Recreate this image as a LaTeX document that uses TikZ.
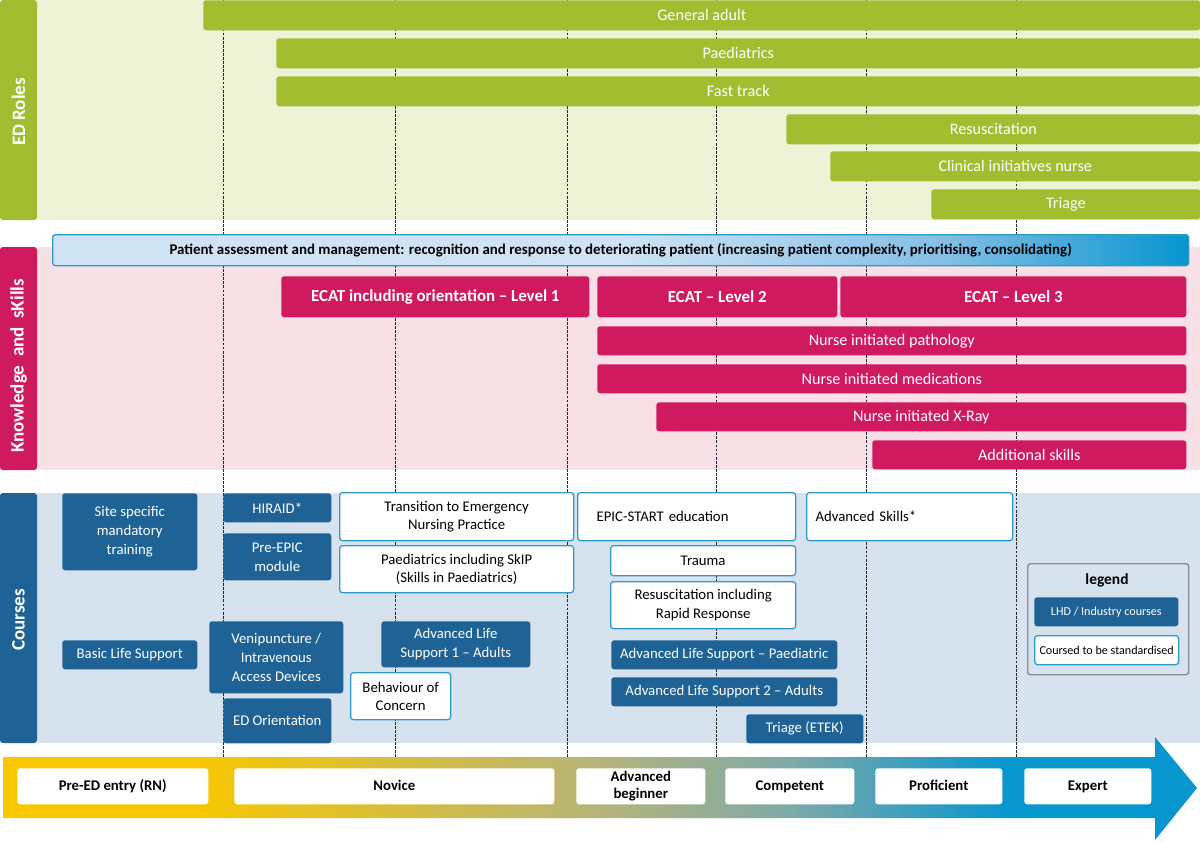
\documentclass[tikz,border=0pt]{standalone}
\usepackage{fontspec}
\setmainfont{Carlito}
\usetikzlibrary{positioning}
\definecolor{grn}{HTML}{A3BD31}
\definecolor{grnbg}{HTML}{EEF3D8}
\definecolor{mag}{HTML}{D01A5F}
\definecolor{pinkbg}{HTML}{F8E1E6}
\definecolor{dblue}{HTML}{1F6396}
\definecolor{cbg}{HTML}{D6E3EF}
\definecolor{cyanb}{HTML}{2F9AC8}
\definecolor{patl}{HTML}{CFE3F4}
\definecolor{patm}{HTML}{86BFE5}
\definecolor{patd}{HTML}{0795CF}
\definecolor{yel}{HTML}{F8C700}
\definecolor{olv}{HTML}{B5B47A}
\definecolor{teal}{HTML}{7EA9A8}
\definecolor{blu}{HTML}{0896CF}
\pgfdeclarehorizontalshading{patshade}{100bp}{color(0bp)=(patl); color(25bp)=(patl); color(50bp)=(patl); color(64bp)=(patm); color(75bp)=(patd); color(100bp)=(patd)}
\pgfdeclarehorizontalshading{stageshade}{100bp}{color(0bp)=(yel); color(25bp)=(yel); color(33bp)=(yel); color(50bp)=(olv); color(58bp)=(teal); color(67bp)=(blu); color(75bp)=(blu); color(100bp)=(blu)}

\begin{document}
\begin{tikzpicture}[x=0.025cm,y=-0.025cm,
 sz/.style 2 args={minimum width=#1*0.025cm,minimum height=#2*0.025cm},
 bar/.style={anchor=north west,rounded corners=2pt,inner sep=1pt,align=center},
 role/.style={bar,fill=grn,text=white,font=\fontsize{11.5}{13}\selectfont},
 ecat/.style={bar,fill=mag,text=white,font=\bfseries\fontsize{12}{14}\selectfont},
 skill/.style={bar,fill=mag,text=white,font=\fontsize{11.5}{13}\selectfont},
 lhd/.style={bar,fill=dblue,text=white,font=\fontsize{10.5}{13.5}\selectfont},
 std/.style={bar,fill=white,draw=cyanb,line width=0.9pt,font=\fontsize{10.5}{13}\selectfont},
 lefttext/.style 2 args={align=left,inner xsep=#1*0.025cm,text width=#2*0.025cm},
 stage/.style={bar,fill=white,font=\bfseries\fontsize{10.5}{12}\selectfont},
 oneline/.style={text height=1.6ex,text depth=0.45ex},
 side/.style={rotate=90,text=white,font=\bfseries\fontsize{13.5}{15}\selectfont},
 guide/.style={black!85,line width=0.6pt,dash pattern=on 2pt off 0.9pt}]
\useasboundingbox (0,0) rectangle (1200,842);

% bands
\fill[grnbg] (37,0) rectangle (1200,220);
\fill[grn,rounded corners=2pt] (0,0) rectangle (37,220);
\node[side] (roleslbl) at (18.5,112) {ED Roles};
\fill[pinkbg] (37,247) rectangle (1200,470);
\fill[mag,rounded corners=2pt] (0,247) rectangle (37,470);
\node[side] (knowlbl) at (18.5,366) {Knowledge~~and~~sKills};
\fill[cbg] (37,493) rectangle (1200,743);
\fill[dblue,rounded corners=2pt] (0,493) rectangle (37,743);
\node[side] (courselbl) at (18.5,620) {Courses};

% stage guides
\foreach \gx in {223,395,567,716,866,1016}
  \draw[guide] (\gx,0) -- (\gx,760);

% ED roles
\node[role,sz={997}{30}] (genadult) at (203,0) {General adult};
\node[role,sz={924}{30}] (paed) at (276,38) {Paediatrics};
\node[role,sz={924}{30}] (fasttrack) at (276,76) {Fast track};
\node[role,sz={414}{30}] (resus) at (786,114) {Resuscitation};
\node[role,sz={370}{30}] (clinit) at (830,151) {Clinical initiatives nurse};
\node[role,sz={269}{30}] (triage) at (931,189) {Triage};

% knowledge and skills
\node[bar,shade,shading=patshade,draw=cyanb,line width=0.9pt,sz={1136}{31},
  font=\bfseries\fontsize{10.6}{12}\selectfont] (patient) at (52,234)
  {Patient assessment and management: recognition and response to deteriorating patient (increasing patient complexity, prioritising, consolidating)};
\node[ecat,sz={308}{41}] (ecat1) at (281,276) {ECAT including orientation – Level 1};
\node[ecat,sz={240}{41}] (ecat2) at (597,276) {ECAT – Level 2};
\node[ecat,sz={346}{41}] (ecat3) at (840,276) {ECAT – Level 3};
\node[skill,sz={589}{29}] (pathology) at (597,326) {Nurse initiated pathology};
\node[skill,sz={589}{29}] (meds) at (597,364) {Nurse initiated medications};
\node[skill,sz={530}{29}] (xray) at (656,402) {Nurse initiated X-Ray};
\node[skill,sz={314}{29}] (addskills) at (872,440) {Additional skills};

% courses
\node[lhd,sz={135}{77}] (site) at (62,493) {Site specific\\mandatory\\training};
\node[lhd,sz={135}{29}] (bls) at (62,640) {Basic Life Support};
\node[lhd,sz={108}{29}] (hiraid) at (223,493) {HIRAID*};
\node[lhd,sz={108}{47}] (preepic) at (223,533) {Pre-EPIC\\module};
\node[lhd,sz={134}{72}] (veni) at (209,621) {Venipuncture /\\Intravenous\\Access Devices};
\node[lhd,sz={108}{45}] (edorient) at (223,698) {ED Orientation};
\node[lhd,sz={149}{46}] (als1) at (381,621) {Advanced Life\\Support 1 – Adults};
\node[lhd,sz={226}{29}] (alspaed) at (611,640) {Advanced Life Support – Paediatric};
\node[lhd,sz={226}{29}] (als2) at (611,677) {Advanced Life Support 2 – Adults};
\node[lhd,sz={117}{29}] (etek) at (746,714) {Triage (ETEK)};
\node[std,sz={234}{48}] (transition) at (339,492) {Transition to Emergency\\Nursing Practice};
\node[std,sz={234}{47}] (skip) at (339,545) {Paediatrics including SkIP\\(Skills in Paediatrics)};
\node[std,sz={100}{47}] (concern) at (350,672) {Behaviour of\\Concern};
\node[std,sz={218}{48},lefttext={19}{180}] (epicstart) at (577,492) {EPIC-START education};
\node[std,sz={185}{30}] (trauma) at (610,545) {Trauma};
\node[std,sz={185}{47}] (resusrr) at (610,581) {Resuscitation including\\Rapid Response};
\node[std,sz={206}{48},lefttext={9}{188}] (advskills) at (806,492) {Advanced Skills*};

% legend
\node[bar,fill=cbg,draw=black!45,line width=1pt,sz={161}{111}] (legend) at (1027,563) {};
\node[font=\bfseries\fontsize{11}{13}\selectfont] (legendtitle) at (1107,580) {legend};
\node[lhd,sz={144}{29},font=\fontsize{8.6}{10}\selectfont] (keylhd) at (1034,597) {LHD / Industry courses};
\node[std,sz={144}{29},font=\fontsize{8.6}{10}\selectfont] (keystd) at (1034,635) {Coursed to be standardised};

% stages arrow
\shade[shading=stageshade] (3,757) -- (1155,757) -- (1155,737) -- (1197,788)
  -- (1155,840) -- (1155,818) -- (3,818) -- cycle;
\node[stage,oneline,sz={191}{36}] (preed) at (17,768) {Pre-ED entry (RN)};
\node[stage,oneline,sz={320}{36}] (novice) at (234,768) {Novice};
\node[stage,sz={129}{36}] (advbeg) at (576,768) {Advanced\\beginner};
\node[stage,oneline,sz={129}{36}] (competent) at (725,768) {Competent};
\node[stage,oneline,sz={127}{36}] (proficient) at (875,768) {Proficient};
\node[stage,oneline,sz={127}{36}] (expert) at (1024,768) {Expert};
\end{tikzpicture}
\end{document}
